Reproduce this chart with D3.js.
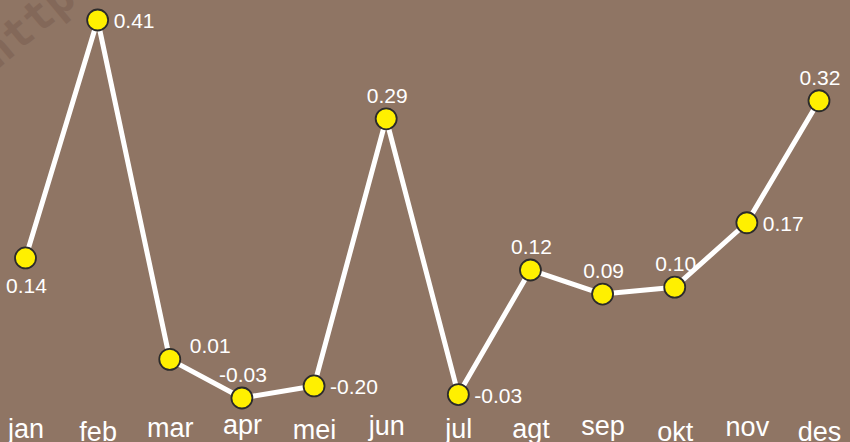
<!DOCTYPE html>
<html>
<head>
<meta charset="utf-8">
<script src="https://cdn.jsdelivr.net/npm/d3@7"></script>
<style>
  body { margin: 0; background: #8f7564; overflow: hidden; }
  text { font-family: "Liberation Sans", Arial, sans-serif; }
</style>
</head>
<body>
<script>
// data
const months = ["jan", "feb", "mar", "apr", "mei", "jun", "jul", "agt", "sep", "okt", "nov", "des"];
const values = [0.133, 0.41, 0.015, -0.03, -0.016, 0.295, -0.026, 0.119, 0.091, 0.099, 0.174, 0.316];
const labels = ["0.14", "0.41", "0.01", "-0.03", "-0.20", "0.29", "-0.03", "0.12", "0.09", "0.10", "0.17", "0.32"];

// where each value label sits relative to its point
const labelPos = ["below", "right", "upright", "above", "right", "above", "right", "above", "above", "above", "right", "above"];
// small vertical wobble of the month labels
const monthShift = [0, 3, -1, -4, 1, -3, 0, 0, -3, 3, -2, 3];

const canvWidth = 850, canvHeight = 442;
const svg = d3.select("body").append("svg")
    .attr("width", canvWidth)
    .attr("height", canvHeight);

svg.append("rect")
    .attr("width", canvWidth)
    .attr("height", canvHeight)
    .attr("fill", "#8f7564");

// faint watermark in the corner
svg.append("text")
    .attr("transform", "translate(-3,70) rotate(-40)")
    .style("font-family", "'DejaVu Sans Mono', monospace")
    .attr("font-size", "44px")
    .attr("font-weight", "bold")
    .attr("fill", "#836859")
    .text("http://");

const xScale = d3.scalePoint()
    .domain(months)
    .range([25.5, 819]);

const yScale = d3.scaleLinear()
    .domain([-0.03, 0.41])
    .range([398, 20]);

// month labels
const xAxis = d3.axisBottom(xScale).tickSize(0).tickPadding(0);
const gx = svg.append("g")
    .attr("transform", "translate(0,418)")
    .call(xAxis);
gx.select(".domain").remove();
gx.selectAll("text")
    .attr("font-family", "'Liberation Sans', Arial, sans-serif")
    .attr("font-size", "27px")
    .attr("fill", "#ffffff")
    .attr("dy", null)
    .attr("y", (d, i) => 20 + monthShift[i]);

// the line
const line = d3.line()
    .x((d, i) => xScale(months[i]))
    .y(d => yScale(d));

svg.append("path")
    .datum(values)
    .attr("d", line)
    .attr("fill", "none")
    .attr("stroke", "#ffffff")
    .attr("stroke-width", 5)
    .attr("stroke-linejoin", "round");

// points
svg.selectAll("circle")
    .data(values)
    .join("circle")
    .attr("cx", (d, i) => xScale(months[i]))
    .attr("cy", d => yScale(d))
    .attr("r", 10.5)
    .attr("fill", "#fff000")
    .attr("stroke", "#2b2b2b")
    .attr("stroke-width", 1.8);

// value labels
function lx(d, i) {
    const x = xScale(months[i]);
    if (labelPos[i] === "right") return x + 16;
    if (labelPos[i] === "upright") return x + 20;
    return x + 1;
}
function ly(d, i) {
    const y = yScale(d);
    if (labelPos[i] === "below") return y + 35;
    if (labelPos[i] === "right") return y + 8;
    if (labelPos[i] === "upright") return y - 6;
    return y - 16;
}

svg.selectAll(".vlabel")
    .data(values)
    .join("text")
    .attr("class", "vlabel")
    .attr("x", lx)
    .attr("y", ly)
    .attr("font-size", "21px")
    .attr("fill", "#ffffff")
    .style("text-anchor", (d, i) => (labelPos[i] === "right" || labelPos[i] === "upright") ? "start" : "middle")
    .text((d, i) => labels[i]);
</script>
</body>
</html>
